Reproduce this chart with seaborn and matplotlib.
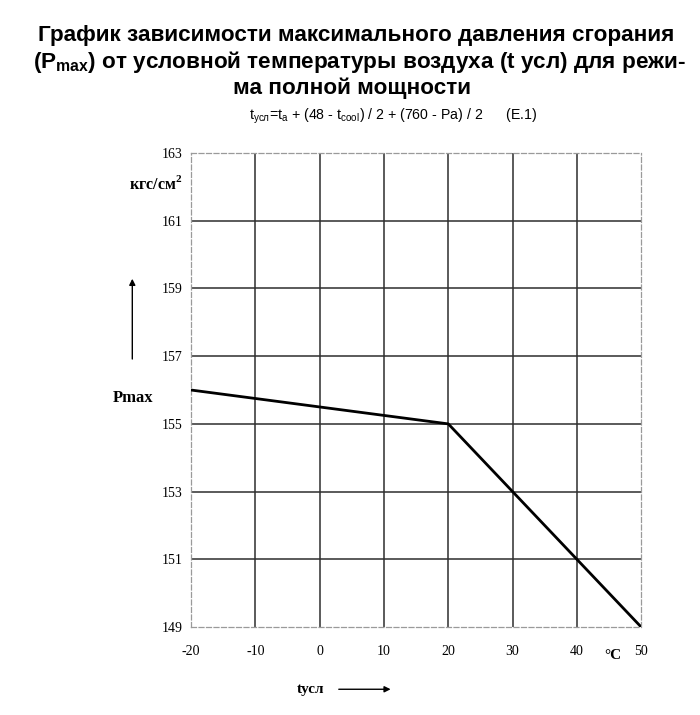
import numpy as np
import pandas as pd
import seaborn as sns
import matplotlib
matplotlib.use("Agg")
import matplotlib.pyplot as plt

# chart data
t_usl = [-20, 20, 50]
p_max = [156, 155, 149]
x_ticks = [-20, -10, 0, 10, 20, 30, 40, 50]
y_ticks = [149, 151, 153, 155, 157, 159, 161, 163]

title_lines = [
    "График зависимости максимального давления сгорания",
    r"(P$_{\mathregular{max}}$) от условной температуры воздуха (t усл) для режи-",
    "ма полной мощности",
]
formula = (r"t$_{\mathregular{ усл}}$=t$_{\mathregular{a}}$ + (48 - t$_{\mathregular{cool}}$) / 2"
           r" + (760 - Pa) / 2      (E.1)")

df = pd.DataFrame({"t": t_usl, "p": p_max})

sns.set_style("white")
plt.rcParams["font.family"] = ["Liberation Serif", "DejaVu Serif"]
plt.rcParams["axes.unicode_minus"] = False
plt.rcParams["text.color"] = "black"

W, H = 700, 715
fig = plt.figure(figsize=(7, 7.15), dpi=100)
ax = fig.add_axes([0.273, 0.123, 0.643, 0.663])

sns.lineplot(data=df, x="t", y="p", ax=ax, color="black", linewidth=2, zorder=5)

ax.set_xlim(-20, 50)
ax.set_ylim(149, 163)
ax.set_xticks(x_ticks)
ax.set_yticks(y_ticks)
ax.tick_params(axis="both", length=0, labelsize=10, colors="black")
ax.tick_params(axis="x", pad=13)
ax.tick_params(axis="y", pad=6)
ax.set_xlabel("")
ax.set_ylabel("")

# inner grid solid, outer frame dashed grey
for xv in x_ticks[1:-1]:
    ax.axvline(xv, color="#2e2e2e", linewidth=1.1, zorder=1)
for yv in y_ticks[1:-1]:
    ax.axhline(yv, color="#2e2e2e", linewidth=1.1, zorder=1)
for side in ax.spines.values():
    side.set_visible(True)
    side.set_color("#9a9a9a")
    side.set_linestyle((0, (4, 2)))
    side.set_linewidth(0.9)


def fit_width(txt, target_px):
    # scale font so the text spans about target_px
    fig.canvas.draw()
    w = txt.get_window_extent().width
    txt.set_fontsize(txt.get_fontsize() * target_px / w)


# title
sans = ["Liberation Sans", "DejaVu Sans"]
t1 = fig.text(356.5 / W, 1 - 36 / H, title_lines[0], ha="center", va="center",
              fontsize=14, fontweight="bold", family=sans)
fit_width(t1, 637)
fs = t1.get_fontsize()
fig.text(359 / W, 1 - 62 / H, title_lines[1], ha="center", va="center",
         fontsize=fs, fontweight="bold", family=sans)
fig.text(352 / W, 1 - 88 / H, title_lines[2], ha="center", va="center",
         fontsize=fs, fontweight="bold", family=sans)
sub = fig.text(393 / W, 1 - 116 / H, formula, ha="center", va="center",
               fontsize=10, family=sans)
fit_width(sub, 289)

# axis labels and arrows
fig.text(0.222, 0.742, r"кгс/см$^{\mathregular{2}}$", ha="center", va="center",
         fontsize=11.5, fontweight="bold")
fig.text(0.190, 0.443, "Pmax", ha="center", va="center", fontsize=12, fontweight="bold")
fig.text(0.444, 0.036, "tусл", ha="center", va="center", fontsize=11, fontweight="bold")
fig.text(0.876, 0.083, "°C", ha="center", va="center", fontsize=11, fontweight="bold")
fig.add_artist(matplotlib.patches.FancyArrowPatch(
    (0.189, 0.494), (0.189, 0.614), transform=fig.transFigure,
    arrowstyle="-|>", mutation_scale=9, color="black", linewidth=1))
fig.add_artist(matplotlib.patches.FancyArrowPatch(
    (0.480, 0.036), (0.562, 0.036), transform=fig.transFigure,
    arrowstyle="-|>", mutation_scale=9, color="black", linewidth=1))

fig.savefig("out.png", dpi=100, facecolor="white")
